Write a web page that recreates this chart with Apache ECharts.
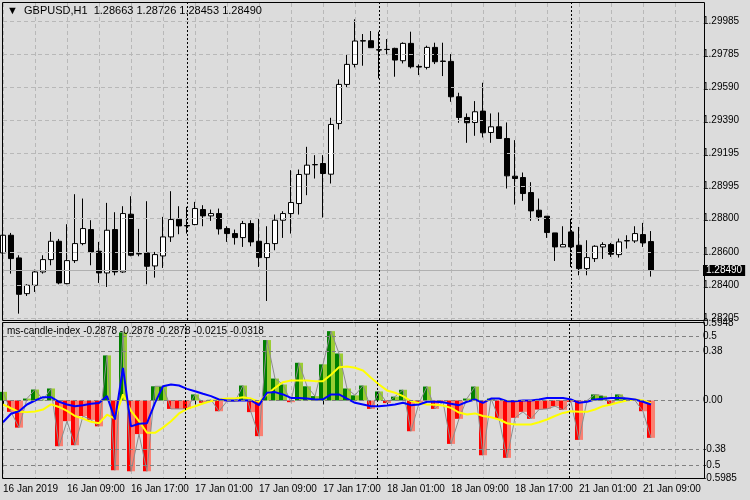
<!DOCTYPE html>
<html><head><meta charset="utf-8">
<script src="https://cdn.jsdelivr.net/npm/echarts@6/dist/echarts.min.js"></script>
<style>html,body{margin:0;padding:0;background:#dcdcdc}#c{width:750px;height:500px}</style>
</head><body><div id="c"></div>
<script>
const title = '▼  GBPUSD,H1  1.28663 1.28726 1.28453 1.28490';
const subTitle = 'ms-candle-index -0.2878 -0.2878 -0.2878 -0.0215 -0.0318';
const open = [1.28595,1.28701,1.28565,1.28351,1.28401,1.28481,1.28555,1.28665,1.28411,1.28549,
1.28651,1.28735,1.28605,1.28475,1.28735,1.28481,1.28827,1.28591,1.28595,1.28517,
1.28577,1.28691,1.28797,1.28759,1.28765,1.28855,1.28817,1.28831,1.28741,1.28711,
1.28687,1.28771,1.28665,1.28567,1.28651,1.28791,1.28831,1.28891,1.29067,1.29123,
1.29131,1.29067,1.29371,1.29605,1.29725,1.29867,1.29867,1.29813,1.29815,1.29821,
1.29747,1.29851,1.29713,1.29707,1.29827,1.29745,1.29743,1.29531,1.29407,1.29377,
1.29445,1.29317,1.29351,1.29281,1.29055,1.29047,1.28957,1.28851,1.28815,1.28715,
1.28631,1.28721,1.28641,1.28501,1.28561,1.28631,1.28645,1.28585,1.28667,1.28667,
1.28705,1.28663];
const close = [1.28701,1.28561,1.28347,1.28401,1.28481,1.28555,1.28665,1.28415,1.28549,1.28651,
1.28741,1.28601,1.28475,1.28731,1.28481,1.28831,1.28581,1.28589,1.28515,1.28585,
1.28691,1.28795,1.28757,1.28757,1.28861,1.28817,1.28831,1.28739,1.28711,1.28687,
1.28771,1.28661,1.28567,1.28651,1.28791,1.28831,1.28897,1.29065,1.29121,1.29125,
1.29071,1.29365,1.29605,1.29725,1.29865,1.29865,1.29825,1.29811,1.29814,1.29751,
1.29851,1.29711,1.29709,1.29827,1.29741,1.29743,1.29531,1.29407,1.29375,1.29441,
1.29315,1.29351,1.29281,1.29057,1.29041,1.28951,1.28847,1.28811,1.28717,1.28631,
1.28645,1.28631,1.28501,1.28567,1.28635,1.28645,1.28587,1.28661,1.28669,1.28711,
1.28655,1.28490];
const low = [1.28587,1.28471,1.28231,1.28337,1.28361,1.28471,1.28521,1.28407,1.28407,1.28535,
1.28641,1.28521,1.28415,1.28391,1.28461,1.28475,1.28575,1.28575,1.28407,1.28447,
1.28505,1.28661,1.28707,1.28711,1.28761,1.28755,1.28787,1.28705,1.28661,1.28645,
1.28631,1.28635,1.28511,1.28307,1.28611,1.28685,1.28711,1.28825,1.28941,1.29041,
1.28807,1.29011,1.29335,1.29587,1.29707,1.29717,1.29825,1.29641,1.29785,1.29651,
1.29731,1.29701,1.29661,1.29695,1.29727,1.29655,1.29501,1.29375,1.29255,1.29297,
1.29287,1.29255,1.29281,1.28981,1.28885,1.28907,1.28787,1.28787,1.28685,1.28547,
1.28631,1.28511,1.28461,1.28461,1.28541,1.28559,1.28571,1.28567,1.28621,1.28655,
1.28631,1.28453];
const high = [1.28711,1.28715,1.28581,1.28407,1.28495,1.28581,1.28721,1.28679,1.28767,1.28947,
1.28921,1.28791,1.28661,1.28895,1.28839,1.28875,1.28935,1.28739,1.28905,1.28601,
1.28811,1.28965,1.28875,1.28871,1.28901,1.28881,1.28855,1.28861,1.28755,1.28735,
1.28787,1.28791,1.28801,1.28755,1.28825,1.28845,1.29091,1.29095,1.29231,1.29181,
1.29181,1.29405,1.29635,1.29785,1.29995,1.29907,1.29925,1.29921,1.29877,1.29825,
1.29857,1.29921,1.29725,1.29837,1.29855,1.29855,1.29787,1.29555,1.29431,1.29505,
1.29615,1.29431,1.29437,1.29377,1.29271,1.29077,1.29019,1.28921,1.28815,1.28715,
1.28755,1.28801,1.28751,1.28671,1.28641,1.28659,1.28655,1.28681,1.28701,1.28755,
1.28775,1.28726];
const hist = [0.067,-0.088,-0.21,0.015,0.085,0.005,0.093,-0.354,-0.16,-0.346,
-0.12,-0.15,-0.2,0.349,-0.54,0.527,-0.548,-0.26,-0.548,0.11,
0.11,-0.065,-0.065,-0.065,0.047,-0.018,0.005,-0.083,-0.005,-0.008,
0.116,-0.09,-0.276,0.468,0.17,0.124,-0.013,0.292,0.11,0.034,
0.28,0.537,0.364,0.093,0.04,0.116,-0.065,0.07,-0.02,0.03,
0.083,-0.238,-0.02,0.108,-0.065,-0.01,-0.336,-0.142,0.015,0.108,
-0.424,0.015,-0.142,-0.444,-0.134,-0.088,-0.142,-0.07,-0.065,-0.044,
-0.072,-0.01,-0.305,0,0.047,0.036,-0.026,0.047,0.01,0,
-0.083,-0.289];
const yellow = [-0.03,-0.06,-0.088,-0.09,-0.085,-0.07,-0.03,-0.05,-0.08,-0.12,
-0.14,-0.165,-0.176,-0.11,-0.14,0.047,-0.08,-0.16,-0.25,-0.25,
-0.21,-0.16,-0.1,-0.065,-0.044,-0.023,-0.005,0.008,0.015,0.015,
0.026,0.015,-0.01,0.047,0.098,0.142,0.155,0.155,0.155,0.15,
0.15,0.2,0.258,0.263,0.253,0.232,0.176,0.124,0.078,0.06,
0.034,-0.005,-0.02,-0.031,-0.033,-0.039,-0.057,-0.093,-0.109,-0.1,
-0.12,-0.13,-0.147,-0.176,-0.186,-0.186,-0.186,-0.168,-0.147,-0.12,
-0.096,-0.083,-0.088,-0.088,-0.07,-0.044,-0.031,-0.013,0,0.008,
0,-0.021];
const blue = [-0.168,-0.103,-0.083,-0.031,0,0.026,0.026,-0.01,-0.031,-0.044,
-0.036,-0.026,-0.02,0.034,-0.147,0.253,-0.2,-0.18,-0.176,-0.018,
0.111,0.124,0.116,0.09,0.072,0.052,0.034,0.008,0,0,
0,0,-0.036,0.06,0.065,0.047,0.02,0.02,0.015,0.008,
0.008,0.047,0.047,0.015,-0.018,-0.031,-0.044,-0.044,-0.039,-0.031,
-0.018,-0.036,-0.031,-0.01,-0.01,-0.013,-0.026,-0.036,-0.01,0.008,
-0.018,0.015,0.015,-0.005,-0.005,0,0,0.008,0.02,0.02,
0.02,0.008,-0.018,-0.01,0.008,0.013,0.02,0.02,0.015,0.008,
-0.01,-0.031];
const priceTicks = ['1.29985','1.29785','1.29590','1.29390','1.29195','1.28995','1.28800','1.28600','1.28400','1.28205'];
const lastPrice = '1.28490';
const indTicks = ['0.5','0.38','0.00','-0.38','-0.5'];
const indEdge = ['0.5948','-0.5985'];
const timeTicks = ['16 Jan 2019','16 Jan 09:00','16 Jan 17:00','17 Jan 01:00','17 Jan 09:00','17 Jan 17:00','18 Jan 01:00','18 Jan 09:00','18 Jan 17:00','21 Jan 01:00','21 Jan 09:00'];
const daySeps = [23,47,71];

// hourly categories (16 Jan 01:00 .. 18 Jan 23:00, then 21 Jan)
const cats = [];
[['16 Jan',1,23],['17 Jan',0,23],['18 Jan',0,23],['21 Jan',0,16]].forEach(([d,a,b])=>{for(let h=a;h<=b;h++)cats.push(d+' '+String(h).padStart(2,'0')+':00');});
const N = 88; cats.length = N;

const F = 'Liberation Sans';
const candles = open.map((o,i)=>[o,close[i],low[i],high[i]]);
const dark = hist.map(v=>({value:v,itemStyle:{color:v>=0?'#008000':'#ff0000'}}));
const light = hist.map(v=>({value:v,itemStyle:{color:v>=0?'#9acd32':'#fa8072'}}));

function hline(v, text, lineStyle, labelExtra){
  return [{coord:[cats[0],+v],lineStyle:lineStyle,
    label:Object.assign({show:true,position:'end',distance:4,formatter:text,color:'#000',fontFamily:F,fontSize:10},labelExtra||{})},
    {coord:[cats[N-1],+v]}];
}
const mk = (data)=>({silent:true,symbol:'none',animation:false,precision:6,data:data});
const gridMain = {color:'#b8b8b8',type:[4,3],width:1};
const gridInd = {color:'#808080',type:[4,3],width:1};

const vsep = {silent:true,symbol:'none',animation:false,label:{show:false},
  lineStyle:{color:'#000',type:[2,2],width:1}, data: daySeps.map(x=>({xAxis:x}))};

const opt = {
  backgroundColor:'#dcdcdc', animation:false,
  grid:[{left:3,top:3,width:696,height:317},{left:3,top:323,width:696,height:155}],
  xAxis:[
    {type:'category',gridIndex:0,data:cats,boundaryGap:false,axisLine:{show:false},axisTick:{show:false},axisLabel:{show:false},
     splitLine:{show:true,interval:3,lineStyle:{color:'#b8b8b8',type:[4,3]}}},
    {type:'category',gridIndex:1,data:cats,boundaryGap:false,axisLine:{show:false},
     axisTick:{show:true,interval:(i)=>i%8===0,length:4,inside:false,lineStyle:{color:'#000'}},
     axisLabel:{show:true,interval:(i)=>i%8===0,formatter:(v,i)=>timeTicks[i/8]||'',align:'left',margin:6,color:'#000',fontFamily:F,fontSize:10},
     splitLine:{show:true,interval:3,lineStyle:{color:'#b8b8b8',type:[4,3]}}}
  ],
  yAxis:[
    {type:'value',gridIndex:0,min:1.28193,max:1.30093,show:false,splitLine:{show:false}},
    {type:'value',gridIndex:1,min:-0.6,max:0.6,show:false,splitLine:{show:false}}
  ],
  series:[
    {type:'line',xAxisIndex:0,yAxisIndex:0,data:[],markLine:mk(
      priceTicks.map(t=>hline(t,t,gridMain)).concat([hline(lastPrice,lastPrice,{color:'#b0b0b0',type:'solid',width:1},
        {color:'#fff',backgroundColor:'#000',padding:[1,3,0,3]})]))},
    {type:'candlestick',xAxisIndex:0,yAxisIndex:0,data:candles,barWidth:5,
     itemStyle:{color:'#fff',color0:'#000',borderColor:'#000',borderColor0:'#000',borderWidth:1},markLine:vsep},
    {type:'line',xAxisIndex:1,yAxisIndex:1,data:[],markLine:mk(
      indTicks.map(t=>hline(t,t,gridInd)).concat(indEdge.map(t=>hline(t,t,{color:'rgba(0,0,0,0)'}))))},
    {type:'bar',xAxisIndex:1,yAxisIndex:1,data:dark,barWidth:4,barGap:'0%',markLine:vsep},
    {type:'bar',xAxisIndex:1,yAxisIndex:1,data:light,barWidth:4,barGap:'0%'},
    {type:'line',xAxisIndex:1,yAxisIndex:1,data:hist,symbol:'none',lineStyle:{color:'#8c8c8c',width:1}},
    {type:'line',xAxisIndex:1,yAxisIndex:1,data:yellow,symbol:'none',lineStyle:{color:'#ffff00',width:2}},
    {type:'line',xAxisIndex:1,yAxisIndex:1,data:blue,symbol:'none',lineStyle:{color:'#0000ff',width:2}}
  ],
  graphic:[
    {type:'rect',shape:{x:2.5,y:2.5,width:702,height:318},style:{fill:'none',stroke:'#000',lineWidth:1},silent:true,z:100},
    {type:'rect',shape:{x:2.5,y:322.5,width:702,height:156},style:{fill:'none',stroke:'#000',lineWidth:1},silent:true,z:100},
    {type:'text',left:7,top:5,style:{text:title,fill:'#000',font:'11px '+F},z:100},
    {type:'text',left:7,top:326,style:{text:subTitle,fill:'#000',font:'10px '+F},z:100}
  ]
};
echarts.init(document.getElementById('c')).setOption(opt);
</script></body></html>
